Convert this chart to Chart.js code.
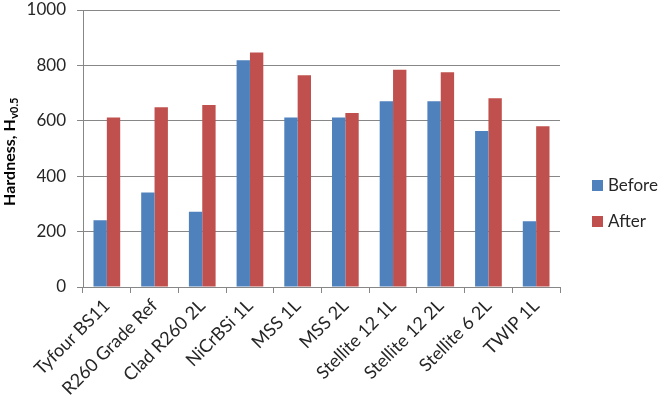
<!DOCTYPE html>
<html>
<head>
<meta charset="utf-8">
<script src="https://cdn.jsdelivr.net/npm/chart.js@4/dist/chart.umd.min.js"></script>
<style>
    html, body { margin: 0; padding: 0; background: #fff; }
    #wrap { width: 663px; height: 400px; }
</style>
</head>
<body>
<div id="wrap"><canvas id="myChart"></canvas></div>
<script>
let samples = ["Tyfour BS11", "R260 Grade Ref", "Clad R260 2L", "NiCrBSi 1L", "MSS 1L",
    "MSS 2L", "Stellite 12 1L", "Stellite 12 2L", "Stellite 6 2L", "TWIP 1L"];
let beforeValues = [241, 341, 272, 819, 612, 612, 671, 671, 563, 237];
let afterValues = [612, 649, 657, 847, 764, 628, 784, 775, 681, 580];
let seriesNames = ["Before", "After"];
let barColors = ["#4F81BD", "#C0504D"];
let yMin = 0;
let yMax = 1000;
let yStep = 200;

let gridColor = "#878787";
let fontFamily = "Lato, 'Liberation Sans', sans-serif";

// y title with subscript + legend on the right, drawn by hand
const extras = {
    id: "extras",
    afterDraw(chart) {
        const ctx = chart.ctx;
        ctx.save();
        ctx.fillStyle = "#000";
        ctx.textBaseline = "alphabetic";
        ctx.font = "bold 16px " + fontFamily;
        let main = "Hardness, H";
        let wMain = ctx.measureText(main).width;
        ctx.font = "bold 11px " + fontFamily;
        let sub = "v0.5";
        let wSub = ctx.measureText(sub).width;
        let total = wMain + wSub;
        ctx.translate(15, 152);
        ctx.rotate(-Math.PI / 2);
        ctx.font = "bold 16px " + fontFamily;
        ctx.fillText(main, -total / 2, 0);
        ctx.font = "bold 11px " + fontFamily;
        ctx.fillText(sub, -total / 2 + wMain + 0.5, 3);
        ctx.restore();

        ctx.save();
        ctx.font = "17px " + fontFamily;
        ctx.textBaseline = "middle";
        chart.data.datasets.forEach((ds, i) => {
            let y = 186 + i * 36;
            ctx.fillStyle = ds.backgroundColor;
            ctx.fillRect(592, y - 6, 11, 11);
            ctx.fillStyle = "#262626";
            ctx.fillText(ds.label, 608, y);
        });
        ctx.restore();
    }
};

let chart = new Chart("myChart", {
    type: "bar",
    data: {
        labels: samples,
        datasets: [
            { label: seriesNames[0], data: beforeValues, backgroundColor: barColors[0] },
            { label: seriesNames[1], data: afterValues, backgroundColor: barColors[1] },
        ],
    },
    options: {
        responsive: true,
        maintainAspectRatio: false,
        animation: false,
        layout: { padding: { top: 10, right: 103, left: 0, bottom: 0 } },
        datasets: { bar: { categoryPercentage: 0.56, barPercentage: 1.0 } },
        plugins: {
            legend: { display: false },
            tooltip: { enabled: false },
        },
        scales: {
            x: {
                offset: true,
                grid: { offset: true, drawOnChartArea: false, color: gridColor, tickLength: 6 },
                border: { color: gridColor },
                ticks: {
                    minRotation: 45, maxRotation: 45, autoSkip: false,
                    color: "#262626", font: { family: fontFamily, size: 18 }, padding: 2,
                },
                afterFit: (s) => { s.height = 113; s.paddingLeft = 0; s.paddingRight = 0; },
            },
            y: {
                min: yMin, max: yMax,
                grid: { color: gridColor, tickLength: 6 },
                border: { color: gridColor },
                ticks: {
                    stepSize: yStep,
                    callback: (v) => String(v),
                    color: "#262626", font: { family: fontFamily, size: 17 }, padding: 11,
                },
                afterFit: (s) => { s.width = 83; s.paddingTop = 0; s.paddingBottom = 0; },
            },
        },
    },
    plugins: [extras],
});
</script>
</body>
</html>
